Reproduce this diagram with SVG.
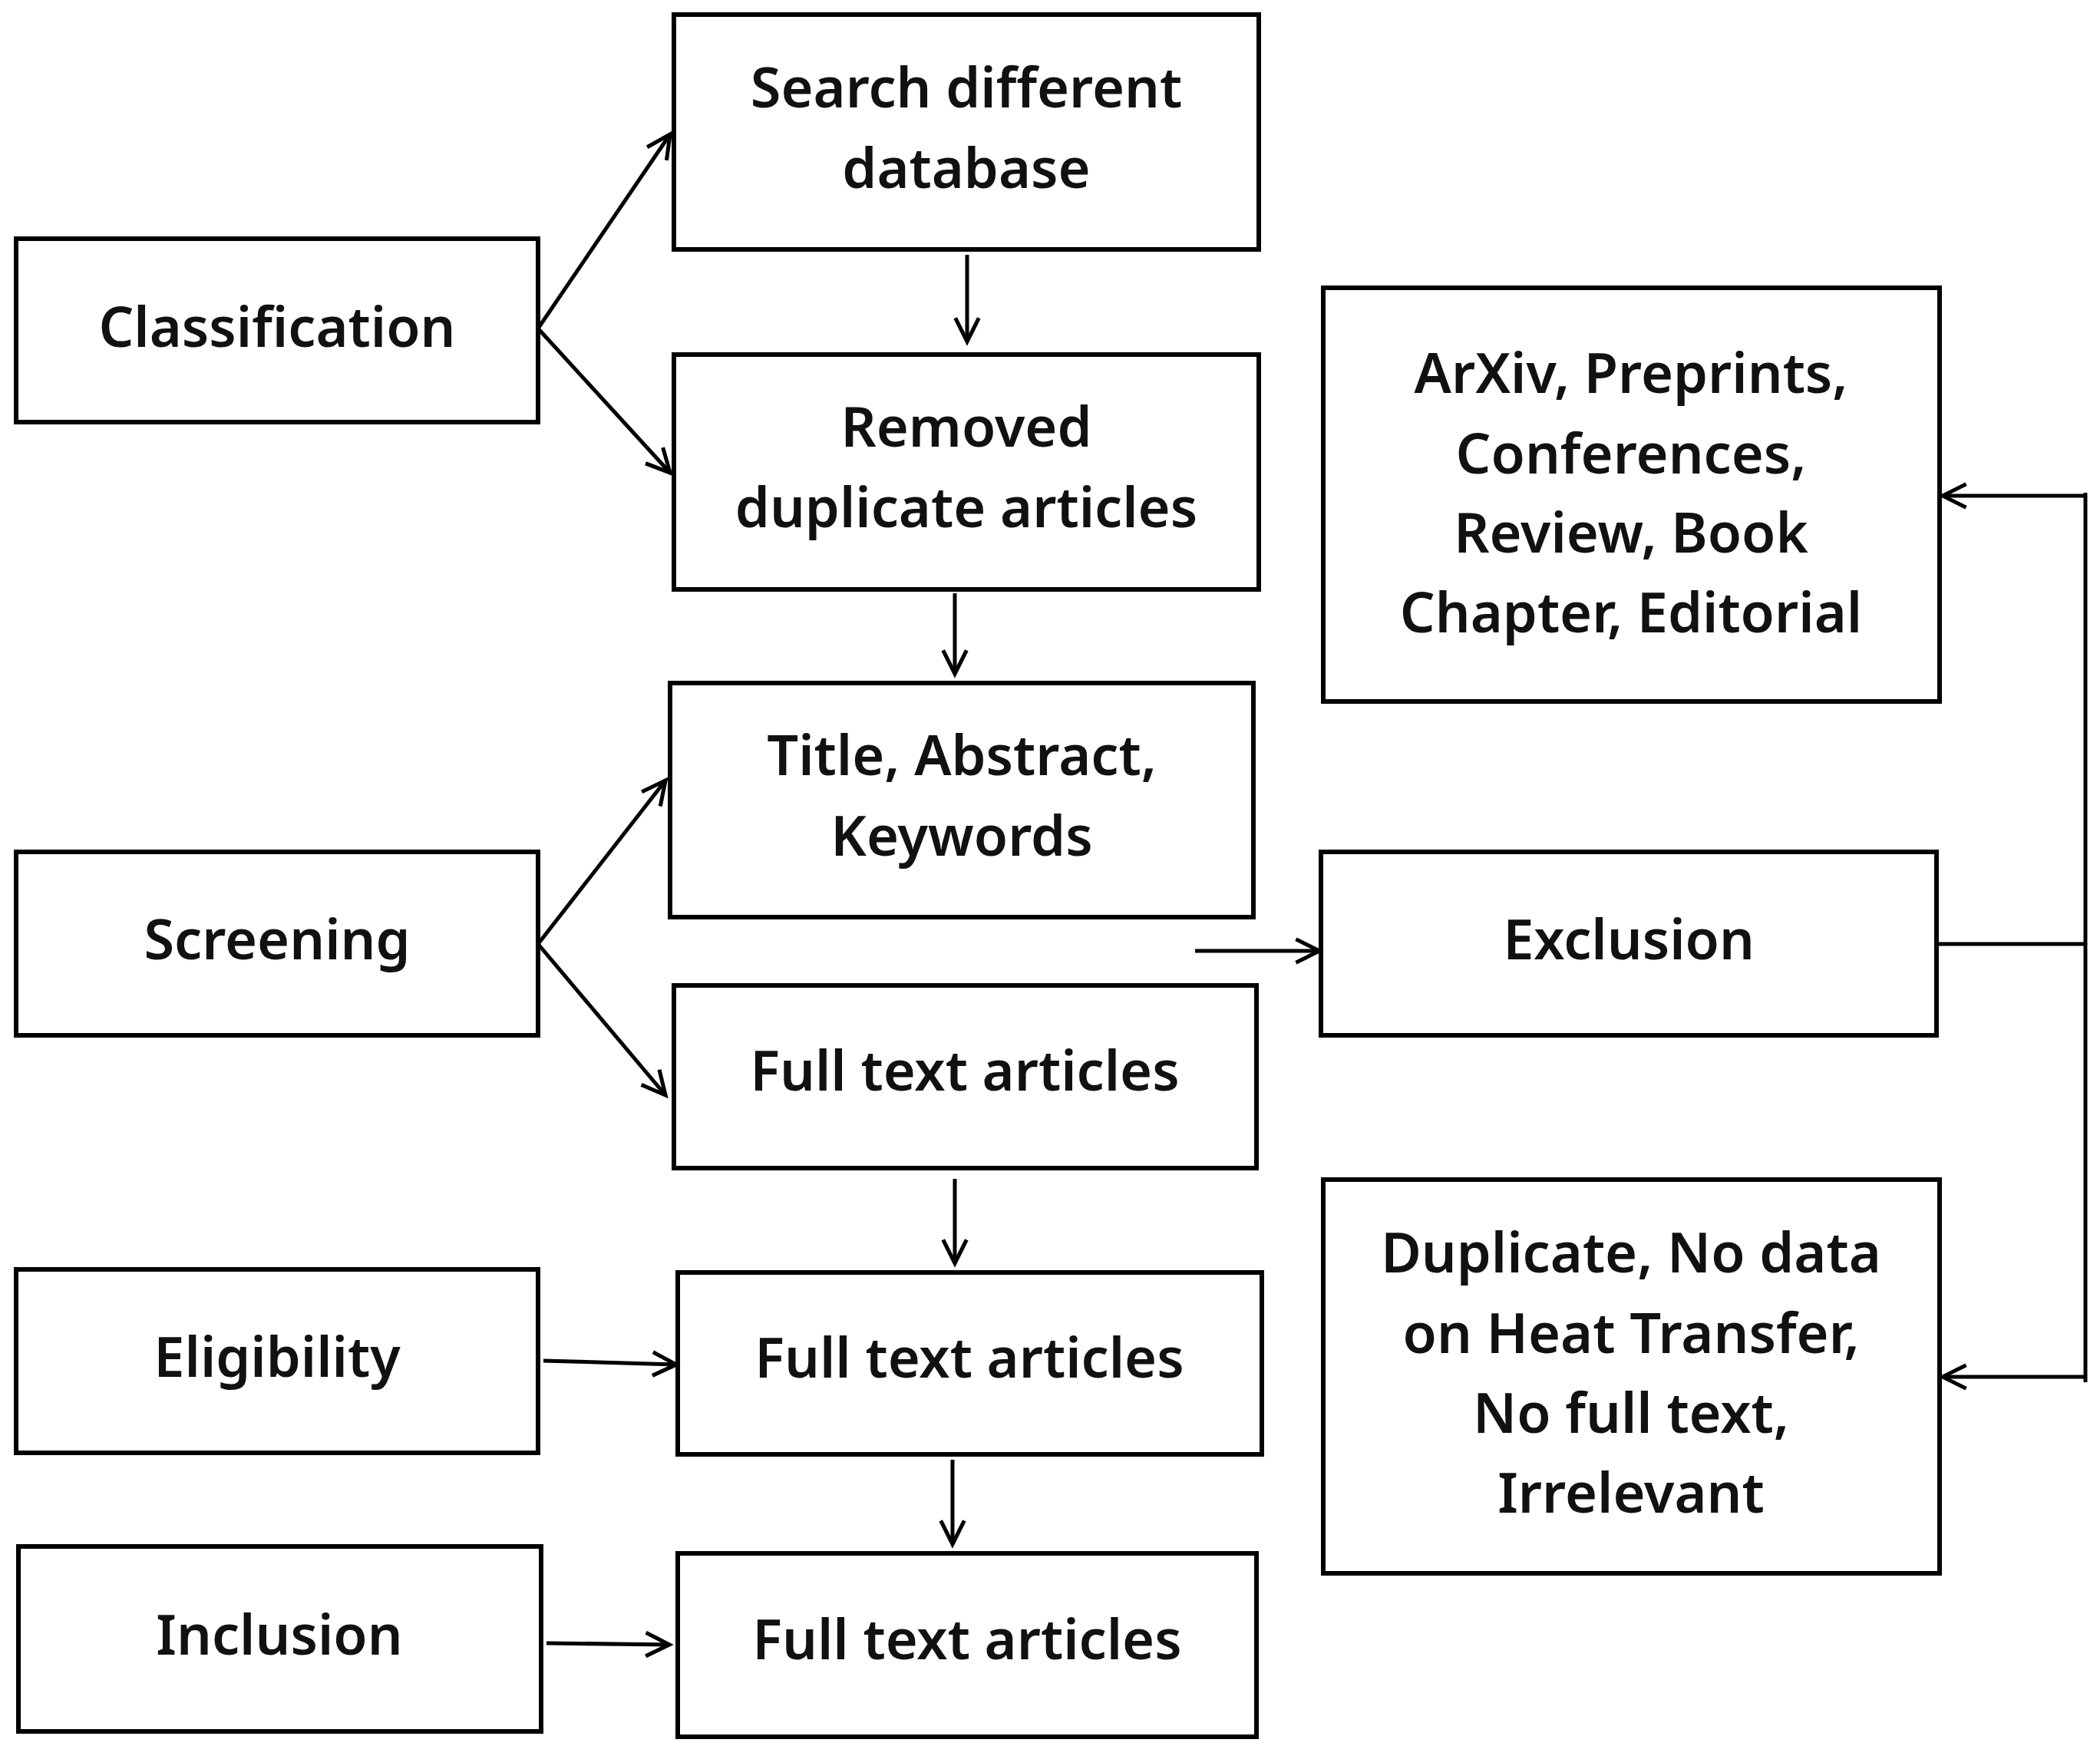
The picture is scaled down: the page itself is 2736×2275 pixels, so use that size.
<svg xmlns="http://www.w3.org/2000/svg" width="2736" height="2275" viewBox="0 0 2736 2275">
<style>
.b{fill:#fff;stroke:#000;stroke-width:6}
.t{font-family:"Noto Sans","Liberation Sans",sans-serif;font-size:72px;font-weight:600;text-anchor:middle;fill:#111}
.c{fill:none;stroke:#000;stroke-width:5}
</style>
<defs><marker id="a" viewBox="0 0 20 20" refX="19" refY="10" markerWidth="34" markerHeight="34" markerUnits="userSpaceOnUse" orient="auto" style="overflow:visible"><path d="M1,1 L19,10 L1,19" fill="none" stroke="#000" stroke-width="3"/></marker></defs>
<rect width="2736" height="2275" fill="#fff"/>
<g id="classification"><rect class="b" x="21" y="311" width="680" height="239"/><text class="t" x="361" y="452">Classification</text></g>
<g id="search"><rect class="b" x="878" y="19" width="762" height="306"/><text class="t" x="1259" y="140">Search different</text><text class="t" x="1259" y="245">database</text></g>
<g id="removed"><rect class="b" x="878" y="462" width="762" height="306"/><text class="t" x="1259" y="582">Removed</text><text class="t" x="1259" y="687">duplicate articles</text></g>
<g id="title"><rect class="b" x="873" y="890" width="760" height="305"/><text class="t" x="1253" y="1010">Title, Abstract,</text><text class="t" x="1253" y="1115">Keywords</text></g>
<g id="fulltext1"><rect class="b" x="878" y="1284" width="759" height="238"/><text class="t" x="1257" y="1421">Full text articles</text></g>
<g id="fulltext2"><rect class="b" x="883" y="1658" width="761" height="237"/><text class="t" x="1263" y="1795">Full text articles</text></g>
<g id="fulltext3"><rect class="b" x="883" y="2024" width="754" height="239"/><text class="t" x="1260" y="2162">Full text articles</text></g>
<g id="screening"><rect class="b" x="21" y="1110" width="680" height="239"/><text class="t" x="361" y="1250">Screening</text></g>
<g id="eligibility"><rect class="b" x="21" y="1654" width="680" height="239"/><text class="t" x="361" y="1794">Eligibility</text></g>
<g id="inclusion"><rect class="b" x="24" y="2015" width="681" height="241"/><text class="t" x="364" y="2156">Inclusion</text></g>
<g id="arxiv"><rect class="b" x="1724" y="375" width="803" height="539"/><text class="t" x="2125" y="512">ArXiv, Preprints,</text><text class="t" x="2125" y="617">Conferences,</text><text class="t" x="2125" y="720">Review, Book</text><text class="t" x="2125" y="824">Chapter, Editorial</text></g>
<g id="exclusion"><rect class="b" x="1721" y="1110" width="802" height="239"/><text class="t" x="2122" y="1250">Exclusion</text></g>
<g id="duplicate"><rect class="b" x="1724" y="1537" width="803" height="513"/><text class="t" x="2125" y="1658">Duplicate, No data</text><text class="t" x="2125" y="1763">on Heat Transfer,</text><text class="t" x="2125" y="1867">No full text,</text><text class="t" x="2125" y="1971">Irrelevant</text></g>
<g id="connectors">
<path class="c" marker-end="url(#a)" d="M701,428 L873,175"/>
<path class="c" marker-end="url(#a)" d="M701,428 L873,616"/>
<path class="c" marker-end="url(#a)" d="M1260,332 L1260,445"/>
<path class="c" marker-end="url(#a)" d="M1244,773 L1244,878"/>
<path class="c" marker-end="url(#a)" d="M701,1230 L867,1017"/>
<path class="c" marker-end="url(#a)" d="M701,1230 L867,1427"/>
<path class="c" marker-end="url(#a)" d="M1557,1239 L1719,1239"/>
<path class="c" marker-end="url(#a)" d="M1244,1536 L1244,1646"/>
<path class="c" marker-end="url(#a)" d="M1241,1902 L1241,2012"/>
<path class="c" marker-end="url(#a)" d="M708,1773 L881,1778"/>
<path class="c" marker-end="url(#a)" d="M712,2141 L872,2143"/>
<path class="c" d="M2523,1230 L2717,1230 M2717,642 L2717,1801"/>
<path class="c" marker-end="url(#a)" d="M2717,646 L2531,646"/>
<path class="c" marker-end="url(#a)" d="M2717,1794 L2531,1794"/>
</g>
</svg>
